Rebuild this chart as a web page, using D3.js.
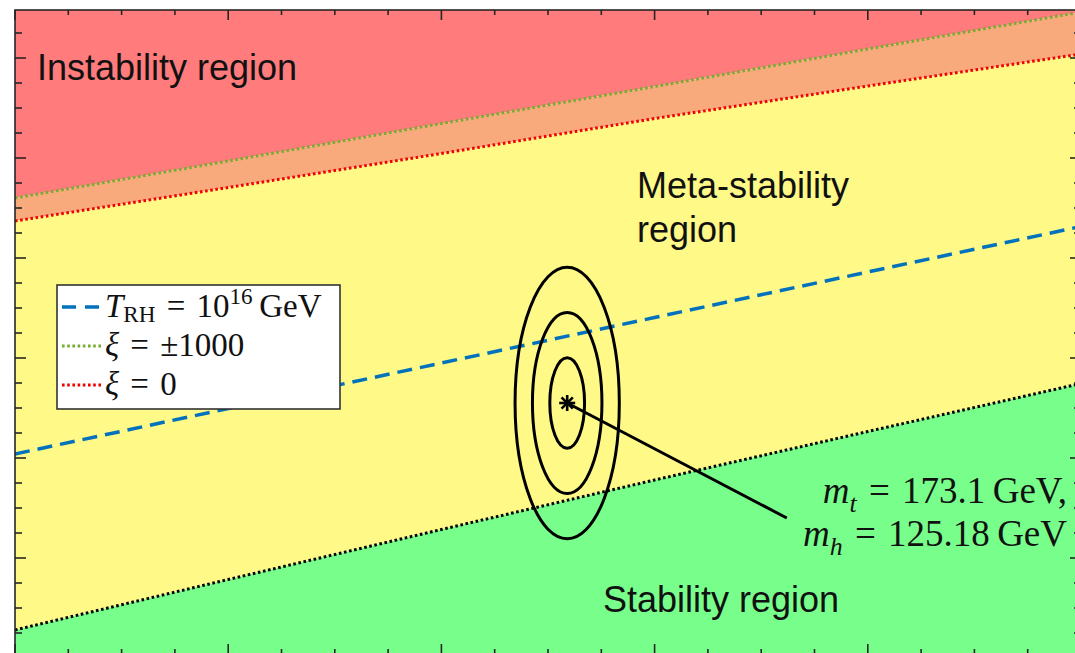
<!DOCTYPE html>
<html>
<head>
<meta charset="utf-8">
<script src="https://cdn.jsdelivr.net/npm/d3@7"></script>
<style>
  html, body { margin: 0; padding: 0; background: #fff; overflow: hidden; }
  svg { display: block; }
</style>
</head>
<body>
<svg id="chart" width="1075" height="653"></svg>
<script>
// Higgs mass grid (GeV) at which the boundary curves are sampled
const mhGrid = [120, 122, 124, 126, 128, 130];
// Top-mass boundaries (GeV) along mhGrid
const mtXi1000 = [177.20, 177.94, 178.69, 179.43, 180.18, 180.92];   // xi = +-1000
const mtXi0 = [176.74, 177.41, 178.09, 178.79, 179.44, 180.08];      // xi = 0
const mtStability = [168.56, 169.57, 170.57, 171.56, 172.53, 173.49]; // absolute stability
const mtTrh16 = [172.08, 172.99, 173.90, 174.81, 175.72, 176.63];     // T_RH = 1e16 GeV

// Measured central values and uncertainties
const centralMh = 125.18, centralMt = 173.1;
const sigmaMh = 0.163, sigmaMt = 0.905;
const sigmaLevels = [1, 2, 3];

// Axis ranges and tick steps
const mhRange = [120, 130];
const mtRange = [168.08, 180.96];
const minorStep = 0.5, majorStep = 2;

const svg = d3.select("#chart");
const plot = { left: 15, top: 10, right: 1081, bottom: 654 };

const x = d3.scaleLinear().domain(mhRange).range([plot.left, plot.right]);
const y = d3.scaleLinear().domain(mtRange).range([plot.bottom, plot.top]);

svg.append("defs").append("clipPath").attr("id", "plotClip")
  .append("rect")
  .attr("x", plot.left).attr("y", plot.top)
  .attr("width", plot.right - plot.left).attr("height", plot.bottom - plot.top);

const g = svg.append("g").attr("clip-path", "url(#plotClip)");

const rows = mhGrid.map((mh, i) => ({
  mh, xi1000: mtXi1000[i], xi0: mtXi0[i], stab: mtStability[i], trh: mtTrh16[i]
}));

const band = (lo, hi) => d3.area()
  .x(d => x(d.mh)).y0(d => y(lo(d))).y1(d => y(hi(d)))(rows);

// Coloured regions
g.append("path").attr("d", band(d => d.xi1000, () => mtRange[1] + 1)).attr("fill", "#FF7B7C");
g.append("path").attr("d", band(d => d.xi0, d => d.xi1000)).attr("fill", "#F9AA7D");
g.append("path").attr("d", band(d => d.stab, d => d.xi0)).attr("fill", "#FFF987");
g.append("path").attr("d", band(() => mtRange[0] - 1, d => d.stab)).attr("fill", "#78FE8B");

const line = key => d3.line().x(d => x(d.mh)).y(d => y(d[key]))(rows);
const dotted = "2.6,2.6";

// Boundary curves
g.append("path").attr("d", line("xi1000")).attr("fill", "none")
  .attr("stroke", "#77AC30").attr("stroke-width", 3).attr("stroke-dasharray", dotted);
g.append("path").attr("d", line("xi0")).attr("fill", "none")
  .attr("stroke", "#F20000").attr("stroke-width", 3).attr("stroke-dasharray", dotted);
g.append("path").attr("d", line("stab")).attr("fill", "none")
  .attr("stroke", "#000").attr("stroke-width", 3).attr("stroke-dasharray", dotted);
g.append("path").attr("d", line("trh")).attr("fill", "none")
  .attr("stroke", "#0072BD").attr("stroke-width", 3.5).attr("stroke-dasharray", "15,8");

// Confidence ellipses around the measured point
sigmaLevels.forEach(k => {
  g.append("ellipse")
    .attr("cx", x(centralMh)).attr("cy", y(centralMt))
    .attr("rx", x(centralMh + k * sigmaMh) - x(centralMh))
    .attr("ry", y(centralMt) - y(centralMt + k * sigmaMt))
    .attr("fill", "none").attr("stroke", "#000").attr("stroke-width", 3);
});

// Pointer from the central value to its label
const pointerEnd = { mh: 127.24, mt: 170.8 };
g.append("line")
  .attr("x1", x(centralMh)).attr("y1", y(centralMt))
  .attr("x2", x(pointerEnd.mh)).attr("y2", y(pointerEnd.mt))
  .attr("stroke", "#000").attr("stroke-width", 3);

// Asterisk marker
const cx = x(centralMh), cy = y(centralMt), r = 8;
[0, 45, 90, 135].forEach(a => {
  const t = a * Math.PI / 180;
  g.append("line")
    .attr("x1", cx - r * Math.cos(t)).attr("y1", cy - r * Math.sin(t))
    .attr("x2", cx + r * Math.cos(t)).attr("y2", cy + r * Math.sin(t))
    .attr("stroke", "#000").attr("stroke-width", 2.6);
});

// Frame and inward ticks
const axisColor = "#262626";
const ticks = d3.range(mhRange[0], mhRange[1] + 1e-9, minorStep);
const yTicks = d3.range(Math.ceil(mtRange[0] / minorStep) * minorStep, mtRange[1] + 1e-9, minorStep);
const isMajor = v => Math.abs(v / majorStep - Math.round(v / majorStep)) < 1e-6;
const tg = svg.append("g").attr("stroke", axisColor).attr("stroke-width", 1.6);
ticks.forEach(v => {
  const len = isMajor(v) ? 10 : 5;
  tg.append("line").attr("x1", x(v)).attr("x2", x(v)).attr("y1", plot.top).attr("y2", plot.top + len);
  tg.append("line").attr("x1", x(v)).attr("x2", x(v)).attr("y1", plot.bottom).attr("y2", plot.bottom - len);
});
yTicks.forEach(v => {
  const len = isMajor(v) ? 11 : 7;
  tg.append("line").attr("x1", plot.left).attr("x2", plot.left + len).attr("y1", y(v)).attr("y2", y(v));
  tg.append("line").attr("x1", plot.right).attr("x2", plot.right - len).attr("y1", y(v)).attr("y2", y(v));
});
svg.append("rect")
  .attr("x", plot.left).attr("y", plot.top)
  .attr("width", plot.right - plot.left).attr("height", plot.bottom - plot.top)
  .attr("fill", "none").attr("stroke", axisColor).attr("stroke-width", 1.6);

// Region labels
const sans = "'Liberation Sans', Arial, Helvetica, sans-serif";
const label = (txt, lx, ly) => svg.append("text")
  .attr("x", lx).attr("y", ly).attr("font-family", sans).attr("font-size", 36)
  .attr("fill", "#111").text(txt);
label("Instability region", 37, 80);
label("Meta-stability", 637, 198);
label("region", 637, 242);
label("Stability region", 603, 612);

// Math-style text built from italic / roman / sub / superscript pieces;
// `gap` is extra leading space in em (LaTeX-like spacing around relations)
const serif = "'Liberation Serif', 'Times New Roman', serif";
function mathText(parent, tx, ty, anchor, size, parts, subShift = 0.24) {
  const t = parent.append("text").attr("x", tx).attr("y", ty)
    .attr("text-anchor", anchor).attr("font-family", serif)
    .attr("font-size", size).attr("fill", "#111");
  let shift = 0;
  parts.forEach(p => {
    const target = p.sub ? size * subShift : p.sup ? -size * 0.38 : 0;
    const ts = t.append("tspan").text(p.t)
      .attr("dy", target - shift)
      .attr("font-size", (p.sub || p.sup) ? size * 0.7 : size);
    if (p.it) ts.attr("font-style", "italic");
    if (p.gap) ts.attr("dx", p.gap * size);
    shift = target;
  });
  return t;
}

const fs = 37;
mathText(svg, 1067, 503, "end", fs, [
  { t: "m", it: true }, { t: "t", it: true, sub: true },
  { t: "=", gap: 0.33 }, { t: "173.1", gap: 0.33 }, { t: "GeV,", gap: 0.2 }
]);
mathText(svg, 1067, 546, "end", fs, [
  { t: "m", it: true }, { t: "h", it: true, sub: true },
  { t: "=", gap: 0.33 }, { t: "125.18", gap: 0.33 }, { t: "GeV", gap: 0.2 }
]);

// Legend
const legend = svg.append("g");
legend.append("rect").attr("x", 57).attr("y", 285).attr("width", 283).attr("height", 124)
  .attr("fill", "#fff").attr("stroke", "#333").attr("stroke-width", 1.6);
const ls = 33;
const legendRows = [
  { color: "#0072BD", dash: "14,9", w: 3.5, parts: [
      { t: "T", it: true }, { t: "RH", sub: true }, { t: "=", gap: 0.34 }, { t: "10", gap: 0.34 },
      { t: "16", sup: true }, { t: "GeV", gap: 0.2 }] },
  { color: "#77AC30", dash: dotted, w: 3, parts: [
      { t: "\u03BE", it: true }, { t: "=", gap: 0.34 }, { t: "\u00B11000", gap: 0.34 }] },
  { color: "#F20000", dash: dotted, w: 3, parts: [
      { t: "\u03BE", it: true }, { t: "=", gap: 0.34 }, { t: "0", gap: 0.34 }] }
];
legendRows.forEach((row, i) => {
  const base = 317 + i * 39;
  legend.append("line").attr("x1", 62).attr("x2", 102).attr("y1", base - 10).attr("y2", base - 10)
    .attr("stroke", row.color).attr("stroke-width", row.w).attr("stroke-dasharray", row.dash);
  mathText(legend, 105, base, "start", ls, row.parts, 0.16);
});
</script>
</body>
</html>
